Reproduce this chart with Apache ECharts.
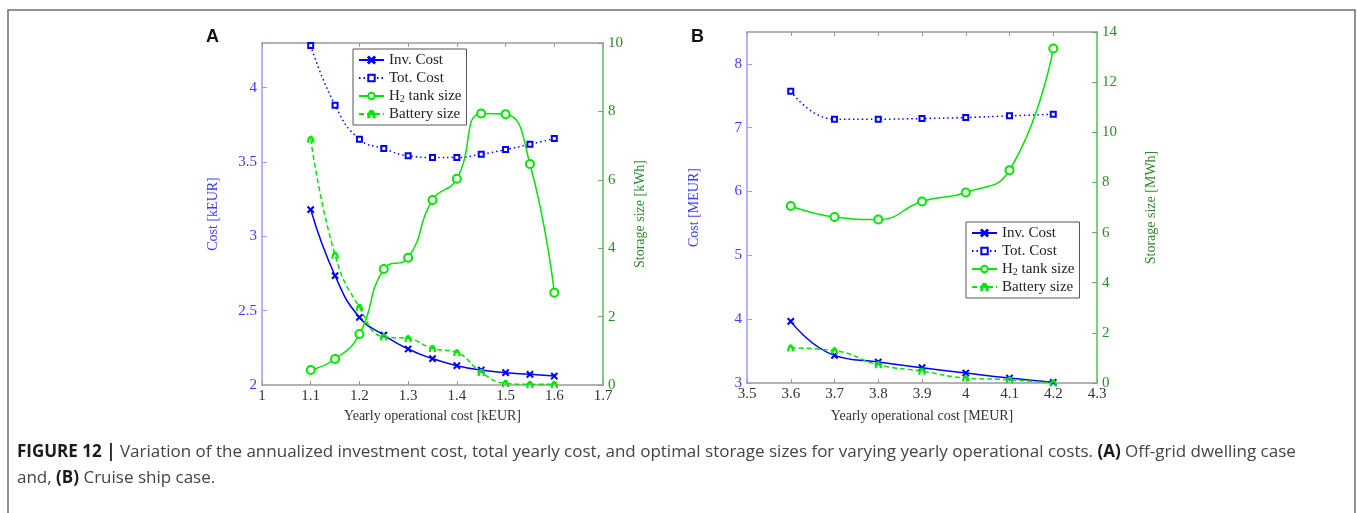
<!DOCTYPE html>
<html>
<head>
<meta charset="utf-8">
<title>Figure 12</title>
<script src="https://cdn.jsdelivr.net/npm/echarts@6/dist/echarts.min.js"></script>
<style>
  html, body { margin: 0; padding: 0; background: #fff; }
  #chart { width: 1357px; height: 513px; }
</style>
</head>
<body>
<div id="chart"></div>
<script>
// panel A - off-grid dwelling (kEUR / kWh)
const opCostA = [1.1, 1.15, 1.2, 1.25, 1.3, 1.35, 1.4, 1.45, 1.5, 1.55, 1.6];
const invCostA = [3.18, 2.735, 2.455, 2.336, 2.242, 2.177, 2.13, 2.101, 2.083, 2.072, 2.06];
const totCostA = [4.284, 3.881, 3.653, 3.59, 3.541, 3.53, 3.53, 3.552, 3.583, 3.619, 3.657];
const h2TankA = [0.44, 0.76, 1.49, 3.39, 3.72, 5.41, 6.03, 7.94, 7.92, 6.46, 2.7];
const batteryA = [7.19, 3.8, 2.27, 1.41, 1.36, 1.07, 0.95, 0.37, 0.05, 0.02, 0.02];

// panel B - cruise ship (MEUR / MWh)
const opCostB = [3.6, 3.7, 3.8, 3.9, 4.0, 4.1, 4.2];
const invCostB = [3.966, 3.433, 3.329, 3.24, 3.157, 3.078, 3.01];
const totCostB = [7.572, 7.134, 7.134, 7.144, 7.16, 7.186, 7.212];
const h2TankB = [7.06, 6.62, 6.52, 7.24, 7.6, 8.49, 13.34];
const batteryB = [1.4, 1.29, 0.73, 0.47, 0.2, 0.13, 0.0];

const names = ['Inv. Cost', 'Tot. Cost', 'H2 tank size', 'Battery size'];

const serif = "'Liberation Serif', 'DejaVu Serif', serif";
const blue = '#0000ff';
const green = '#00e600';
const axisBlue = '#9c9cff';
const textBlue = '#3c3cff';
const axisGreen = '#5cb85c';
const textGreen = '#2e8b2e';

const xMark = 'path://M0,1L1,0L5,4L9,0L10,1L6,5L10,9L9,10L5,6L1,10L0,9L4,5Z';
const hookMark = 'path://M0,5A5,5,0,0,1,10,5L8.4,5A3.4,3.4,0,0,0,1.6,5Z';

function pairs(xs, ys) {
  return xs.map((x, i) => [x, ys[i]]);
}

function line(name, xi, yi, xs, ys, color, type, symbol, size) {
  return {
    name: name,
    type: 'line',
    xAxisIndex: xi,
    yAxisIndex: yi,
    data: pairs(xs, ys),
    smooth: 0.5,
    symbol: symbol,
    symbolSize: size,
    color: color,
    lineStyle: { color: color, width: 1.5, type: type },
    itemStyle: { color: color, borderColor: color, borderWidth: 1.2 },
    emphasis: { disabled: true }
  };
}

function xAxis(grid, min, max, title, gap) {
  return [{
    type: 'value', gridIndex: grid, position: 'bottom', min: min, max: max, interval: 0.1,
    name: title, nameLocation: 'middle', nameGap: gap,
    nameTextStyle: { fontFamily: serif, fontSize: 14, color: '#333' },
    axisLine: { lineStyle: { color: '#9a9a9a', width: 1.5 } },
    axisTick: { inside: true, length: 4, lineStyle: { color: '#9a9a9a' } },
    axisLabel: { fontFamily: serif, fontSize: 15, color: '#333', margin: 4 },
    splitLine: { show: false }
  }, {
    type: 'value', gridIndex: grid, position: 'top', min: min, max: max, interval: 0.1,
    axisLine: { lineStyle: { color: '#9a9a9a', width: 1.5 } },
    axisTick: { inside: true, length: 4, lineStyle: { color: '#9a9a9a' } },
    axisLabel: { show: false },
    splitLine: { show: false }
  }];
}

function yAxis(grid, pos, min, max, step, title, gap, lineColor, textColor) {
  return {
    type: 'value', gridIndex: grid, position: pos, min: min, max: max, interval: step,
    name: title, nameLocation: 'middle', nameGap: gap, nameRotate: 90,
    nameTextStyle: { fontFamily: serif, fontSize: 14, color: textColor },
    axisLine: { show: true, lineStyle: { color: lineColor, width: 1.5 } },
    axisTick: { show: true, inside: true, length: 5, lineStyle: { color: lineColor } },
    axisLabel: { fontFamily: serif, fontSize: 15, color: textColor, margin: 5, showMaxLabel: (max % step === 0) },
    splitLine: { show: false }
  };
}

function legend(left, top) {
  return {
    left: left, top: top, orient: 'vertical',
    backgroundColor: '#fff', borderColor: '#555', borderWidth: 1,
    padding: [3, 5, 3, 5],
    itemWidth: 25, itemHeight: 8, itemGap: 2,
    selectedMode: false,
    data: names,
    formatter: n => n === 'H2 tank size' ? 'H{sub|2} tank size' : n,
    textStyle: {
      fontFamily: serif, fontSize: 15, color: '#222', lineHeight: 16,
      rich: { sub: { fontFamily: serif, fontSize: 10, color: '#222', verticalAlign: 'bottom', lineHeight: 12 } }
    }
  };
}

let chart = echarts.init(document.getElementById('chart'), null, { renderer: 'canvas' });

chart.setOption({
  animation: false,
  backgroundColor: '#fff',
  grid: [
    { left: 262, top: 43, width: 341, height: 342 },
    { left: 747, top: 32, width: 350, height: 351 }
  ],
  xAxis: xAxis(0, 1, 1.7, 'Yearly operational cost [kEUR]', 24)
    .concat(xAxis(1, 3.5, 4.3, 'Yearly operational cost [MEUR]', 26)),
  yAxis: [
    yAxis(0, 'left', 2, 4.3, 0.5, 'Cost [kEUR]', 42, axisBlue, textBlue),
    yAxis(0, 'right', 0, 10, 2, 'Storage size [kWh]', 30, axisGreen, textGreen),
    yAxis(1, 'left', 3, 8.5, 1, 'Cost [MEUR]', 46, axisBlue, textBlue),
    yAxis(1, 'right', 0, 14, 2, 'Storage size [MWh]', 47, axisGreen, textGreen)
  ],
  legend: [legend(353, 49), legend(966, 222)],
  series: [
    line('Inv. Cost', 0, 0, opCostA, invCostA, blue, 'solid', xMark, 6),
    line('Tot. Cost', 0, 0, opCostA, totCostA, blue, [1.5, 3], 'emptyRect', 5),
    line('H2 tank size', 0, 1, opCostA, h2TankA, green, 'solid', 'emptyCircle', 8),
    line('Battery size', 0, 1, opCostA, batteryA, green, [5, 3], hookMark, 6),
    line('Inv. Cost', 2, 2, opCostB, invCostB, blue, 'solid', xMark, 6),
    line('Tot. Cost', 2, 2, opCostB, totCostB, blue, [1.5, 3], 'emptyRect', 5),
    line('H2 tank size', 2, 3, opCostB, h2TankB, green, 'solid', 'emptyCircle', 8),
    line('Battery size', 2, 3, opCostB, batteryB, green, [5, 3], hookMark, 6)
  ],
  graphic: [
    // outer frame of the figure
    {
      type: 'rect', shape: { x: 8, y: 10, width: 1347, height: 520 },
      style: { fill: 'none', stroke: '#6e6e6e', lineWidth: 1.5 }, silent: true
    },
    {
      type: 'text', left: 206, top: 28,
      style: { text: 'A', font: "bold 18px 'Liberation Sans', Arial, sans-serif", fill: '#111' }
    },
    {
      type: 'text', left: 691, top: 28,
      style: { text: 'B', font: "bold 18px 'Liberation Sans', Arial, sans-serif", fill: '#111' }
    },
    {
      type: 'text', left: 17, top: 439,
      style: {
        text: '{b|FIGURE 12 |} Variation of the annualized investment cost, total yearly cost, and optimal storage sizes for varying yearly operational costs. {b|(A)} Off-grid dwelling case\nand, {b|(B)} Cruise ship case.',
        font: "17px 'Open Sans', 'Liberation Sans', sans-serif",
        fill: '#444',
        lineHeight: 26,
        rich: {
          b: { font: "bold 17px 'Open Sans', 'Liberation Sans', sans-serif", fill: '#1a1a1a', lineHeight: 26 }
        }
      }
    }
  ]
});
</script>
</body>
</html>
